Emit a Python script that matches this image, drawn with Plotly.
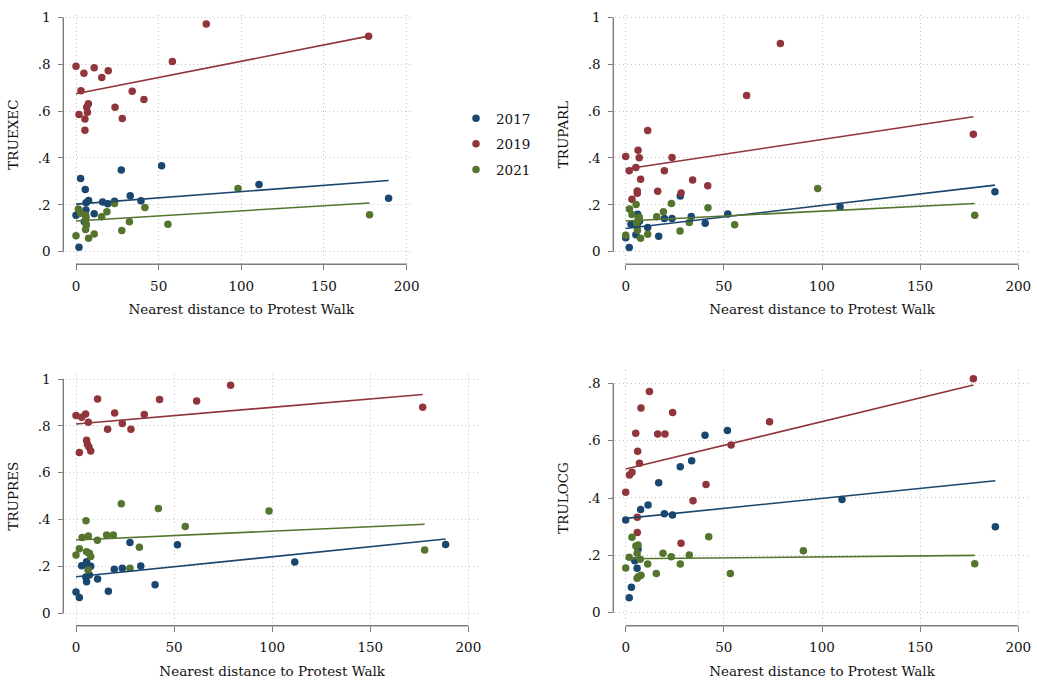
import plotly.graph_objects as go

# ---------------- data ----------------
years = ["2017", "2019", "2021"]
x_ticks = [0, 50, 100, 150, 200]
x_ticktext = ["0", "50", "100", "150", "200"]
y_ticks_full = [0, 0.2, 0.4, 0.6, 0.8, 1.0]
y_ticktext_full = ["0", ".2", ".4", ".6", ".8", "1"]
y_ticks_locg = [0, 0.2, 0.4, 0.6, 0.8]
y_ticktext_locg = ["0", ".2", ".4", ".6", ".8"]
x_title = "Nearest distance to Protest Walk"

# TRUEXEC
exec_x_2017 = [0, 1.8, 2.8, 5.6, 7.6, 6.1, 5.0, 11.0, 16.1, 19.2, 23.3, 27.4, 32.8, 39.3, 51.8, 110.7, 189.1, 6.0]
exec_y_2017 = [0.156, 0.019, 0.312, 0.266, 0.219, 0.209, 0.128, 0.162, 0.212, 0.205, 0.215, 0.349, 0.239, 0.217, 0.367, 0.287, 0.228, 0.178]
exec_x_2019 = [0, 1.8, 3.0, 4.8, 5.4, 5.4, 6.5, 6.9, 7.5, 11.0, 15.6, 19.5, 23.6, 28.0, 34.0, 41.1, 58.3, 78.8, 177.0]
exec_y_2019 = [0.792, 0.586, 0.687, 0.762, 0.566, 0.518, 0.616, 0.595, 0.632, 0.785, 0.744, 0.772, 0.616, 0.568, 0.685, 0.650, 0.812, 0.972, 0.920]
exec_x_2021 = [0, 1.4, 2.8, 5.8, 6.1, 5.8, 6.3, 5.8, 7.6, 11.0, 15.5, 18.7, 23.3, 27.7, 32.3, 41.7, 55.6, 98.0, 177.6]
exec_y_2021 = [0.068, 0.182, 0.164, 0.156, 0.146, 0.124, 0.114, 0.095, 0.057, 0.076, 0.149, 0.171, 0.206, 0.090, 0.128, 0.189, 0.117, 0.270, 0.158]
exec_fit_2017 = [0.203, 0.304]
exec_fit_2019 = [0.674, 0.920]
exec_fit_2021 = [0.131, 0.208]

# TRUPARL
parl_x_2017 = [0, 1.8, 2.7, 5.2, 5.8, 6.1, 7.0, 11.2, 16.8, 19.7, 23.6, 27.8, 33.4, 40.5, 52.0, 109.2, 188.1]
parl_y_2017 = [0.060, 0.018, 0.117, 0.072, 0.115, 0.160, 0.130, 0.103, 0.066, 0.142, 0.142, 0.238, 0.150, 0.121, 0.161, 0.191, 0.256]
parl_x_2019 = [0, 1.8, 3.2, 5.2, 5.9, 5.9, 6.3, 6.9, 7.6, 11.2, 16.3, 19.7, 23.6, 28.2, 34.1, 41.8, 61.6, 78.8, 177.1]
parl_y_2019 = [0.406, 0.346, 0.224, 0.359, 0.259, 0.249, 0.433, 0.401, 0.309, 0.517, 0.258, 0.345, 0.402, 0.251, 0.306, 0.282, 0.667, 0.889, 0.501]
parl_x_2021 = [0, 1.9, 3.2, 5.3, 5.6, 6.3, 6.9, 6.0, 7.6, 11.2, 15.8, 19.2, 23.3, 27.7, 32.4, 41.9, 55.5, 97.8, 177.8]
parl_y_2021 = [0.070, 0.182, 0.159, 0.201, 0.121, 0.135, 0.147, 0.092, 0.057, 0.074, 0.149, 0.171, 0.206, 0.088, 0.125, 0.188, 0.115, 0.270, 0.156]
parl_fit_2017 = [0.099, 0.284]
parl_fit_2019 = [0.353, 0.576]
parl_fit_2021 = [0.131, 0.206]

# TRUPRES
pres_x_2017 = [0, 1.7, 2.9, 5.4, 5.8, 7.5, 6.8, 5.4, 5.0, 11.0, 16.5, 19.5, 23.6, 27.5, 33.0, 40.3, 51.7, 111.5, 188.4]
pres_y_2017 = [0.091, 0.067, 0.203, 0.220, 0.207, 0.201, 0.163, 0.135, 0.155, 0.146, 0.094, 0.188, 0.192, 0.302, 0.202, 0.122, 0.293, 0.219, 0.294]
pres_x_2019 = [0, 1.7, 2.9, 4.9, 6.3, 5.4, 5.8, 6.6, 7.5, 11.0, 16.1, 19.7, 23.6, 28.0, 34.8, 42.6, 61.5, 78.8, 176.7]
pres_y_2019 = [0.844, 0.686, 0.837, 0.851, 0.815, 0.739, 0.721, 0.710, 0.693, 0.915, 0.786, 0.855, 0.810, 0.785, 0.848, 0.913, 0.906, 0.973, 0.879]
pres_x_2021 = [0, 1.7, 3.1, 5.1, 6.3, 5.4, 6.8, 7.5, 6.1, 10.9, 15.6, 19.0, 23.1, 27.5, 32.3, 42.0, 55.7, 98.4, 177.7]
pres_y_2021 = [0.249, 0.276, 0.324, 0.395, 0.330, 0.263, 0.256, 0.242, 0.185, 0.312, 0.334, 0.334, 0.468, 0.192, 0.282, 0.447, 0.370, 0.437, 0.270]
pres_fit_2017 = [0.156, 0.317]
pres_fit_2019 = [0.808, 0.934]
pres_fit_2021 = [0.313, 0.380]

# TRULOCG
locg_x_2017 = [0, 1.8, 2.9, 4.6, 5.8, 6.3, 7.6, 11.4, 16.8, 19.7, 23.8, 27.8, 33.6, 40.4, 51.8, 110.2, 188.3]
locg_y_2017 = [0.323, 0.052, 0.089, 0.181, 0.155, 0.222, 0.360, 0.376, 0.453, 0.345, 0.341, 0.509, 0.530, 0.619, 0.635, 0.395, 0.300]
locg_x_2019 = [0, 1.9, 3.2, 5.1, 5.9, 5.9, 6.1, 7.0, 7.8, 12.1, 16.3, 20.0, 23.9, 28.2, 34.3, 40.9, 53.7, 73.3, 177.1]
locg_y_2019 = [0.420, 0.480, 0.490, 0.626, 0.333, 0.280, 0.563, 0.521, 0.714, 0.771, 0.623, 0.623, 0.698, 0.242, 0.390, 0.447, 0.585, 0.666, 0.816]
locg_x_2021 = [0, 1.8, 3.2, 5.2, 6.3, 5.8, 7.4, 5.8, 6.6, 7.8, 11.2, 15.6, 19.0, 23.2, 27.8, 32.4, 42.3, 53.3, 90.5, 177.8]
locg_y_2021 = [0.156, 0.193, 0.263, 0.233, 0.236, 0.207, 0.186, 0.120, 0.126, 0.131, 0.170, 0.137, 0.207, 0.195, 0.170, 0.201, 0.265, 0.137, 0.216, 0.171]
locg_fit_2017 = [0.329, 0.460]
locg_fit_2019 = [0.501, 0.794]
locg_fit_2021 = [0.188, 0.200]

# ---------------- styling / layout ----------------
W, H = 1037, 683
FONT = "DejaVu Serif"
FS = 13.5
TEXT = "#111111"
AXC = "#7d7d7d"
GRIDC = "#c4c4c4"
colors = {"2017": "#1a476f", "2019": "#90353b", "2021": "#55752f"}

panels = [
    dict(name="TRUEXEC",
         xs={"2017": exec_x_2017, "2019": exec_x_2019, "2021": exec_x_2021},
         ys={"2017": exec_y_2017, "2019": exec_y_2019, "2021": exec_y_2021},
         fits={"2017": exec_fit_2017, "2019": exec_fit_2019, "2021": exec_fit_2021},
         x0=76, xsc=1.653, y0=251.7, ysc=234.3, xmax=204, ymax=1.01,
         xline=264.3, yline=63.3, yt=y_ticks_full, ytt=y_ticktext_full),
    dict(name="TRUPARL",
         xs={"2017": parl_x_2017, "2019": parl_x_2019, "2021": parl_x_2021},
         ys={"2017": parl_y_2017, "2019": parl_y_2019, "2021": parl_y_2021},
         fits={"2017": parl_fit_2017, "2019": parl_fit_2019, "2021": parl_fit_2021},
         x0=625.7, xsc=1.963, y0=251.7, ysc=234.3, xmax=205, ymax=1.01,
         xline=264.3, yline=613.3, yt=y_ticks_full, ytt=y_ticktext_full),
    dict(name="TRUPRES",
         xs={"2017": pres_x_2017, "2019": pres_x_2019, "2021": pres_x_2021},
         ys={"2017": pres_y_2017, "2019": pres_y_2019, "2021": pres_y_2021},
         fits={"2017": pres_fit_2017, "2019": pres_fit_2019, "2021": pres_fit_2021},
         x0=76, xsc=1.962, y0=613.3, ysc=234.3, xmax=205, ymax=1.02,
         xline=625.7, yline=63.3, yt=y_ticks_full, ytt=y_ticktext_full),
    dict(name="TRULOCG",
         xs={"2017": locg_x_2017, "2019": locg_x_2019, "2021": locg_x_2021},
         ys={"2017": locg_y_2017, "2019": locg_y_2019, "2021": locg_y_2021},
         fits={"2017": locg_fit_2017, "2019": locg_fit_2019, "2021": locg_fit_2021},
         x0=625.7, xsc=1.963, y0=612.7, ysc=286.75, xmax=205, ymax=0.846,
         xline=625.7, yline=613.3, yt=y_ticks_locg, ytt=y_ticktext_locg),
]

fig = go.Figure()
layout = dict(
    width=W, height=H,
    margin=dict(l=0, r=0, t=0, b=0, autoexpand=False),
    paper_bgcolor="white", plot_bgcolor="rgba(0,0,0,0)",
    font=dict(family=FONT, size=FS, color=TEXT),
    showlegend=True,
    legend=dict(x=456 / W, y=1 - 103 / H, xanchor="left", yanchor="top",
                font=dict(family=FONT, size=FS, color=TEXT),
                tracegroupgap=5, bgcolor="rgba(0,0,0,0)", borderwidth=0),
)

for i, p in enumerate(panels):
    k = "" if i == 0 else str(i + 1)
    kl = str(i + 5)
    xa, ya = "x" + k, "y" + k          # data + grid axes
    xl, yl = "x" + kl, "y" + kl        # Stata-style offset axes (ticks, labels, titles)

    x_of_yline = (p["yline"] - p["x0"]) / p["xsc"]
    y_of_xline = (p["y0"] - p["xline"]) / p["ysc"]
    xr = [(p["yline"] - 2.5 - p["x0"]) / p["xsc"], p["xmax"]]
    yr = [(p["y0"] - p["xline"] - 2.5) / p["ysc"], p["ymax"]]

    for yr_ in years:
        fig.add_trace(go.Scatter(
            x=p["xs"][yr_], y=p["ys"][yr_], mode="markers", xaxis=xa, yaxis=ya,
            marker=dict(color=colors[yr_], size=7.5),
            name=yr_, legendgroup=yr_, showlegend=(i == 0)))
    for yr_ in years:
        xs = p["xs"][yr_]
        fig.add_trace(go.Scatter(
            x=[min(xs), max(xs)], y=p["fits"][yr_], mode="lines", xaxis=xa, yaxis=ya,
            line=dict(color=colors[yr_], width=1.6), showlegend=False, legendgroup=yr_))
    # offset axis lines spanning only the labelled tick range
    fig.add_trace(go.Scatter(
        x=[x_ticks[0], x_ticks[-1]], y=[y_of_xline, y_of_xline], mode="lines",
        xaxis=xa, yaxis=ya, line=dict(color=AXC, width=1.4), showlegend=False,
        hoverinfo="skip"))
    fig.add_trace(go.Scatter(
        x=[x_of_yline, x_of_yline], y=[p["yt"][0], p["yt"][-1]], mode="lines",
        xaxis=xa, yaxis=ya, line=dict(color=AXC, width=1.4), showlegend=False,
        hoverinfo="skip"))
    # invisible anchor point so that the offset tick axes get drawn
    fig.add_trace(go.Scatter(
        x=[x_ticks[0]], y=[p["yt"][0]], mode="markers", xaxis=xl, yaxis=yl,
        marker=dict(size=1, opacity=0), showlegend=False, hoverinfo="skip"))

    dx = [(p["x0"] + xr[0] * p["xsc"]) / W, (p["x0"] + xr[1] * p["xsc"]) / W]
    dy = [1 - (p["y0"] - yr[0] * p["ysc"]) / H, 1 - (p["y0"] - yr[1] * p["ysc"]) / H]
    lx = [(p["x0"] + x_ticks[0] * p["xsc"]) / W, (p["x0"] + x_ticks[-1] * p["xsc"]) / W]
    ly = [1 - (p["y0"] - p["yt"][0] * p["ysc"]) / H, 1 - (p["y0"] - p["yt"][-1] * p["ysc"]) / H]
    xpos = 1 - p["xline"] / H
    ypos = p["yline"] / W

    layout["xaxis" + k] = dict(
        domain=dx, range=xr, anchor="free", position=0, automargin=False,
        tickvals=x_ticks, showticklabels=False, ticks="", showline=False, zeroline=False,
        showgrid=True, gridcolor=GRIDC, gridwidth=1, griddash="1px,3px")
    layout["yaxis" + k] = dict(
        domain=dy, range=yr, anchor="free", position=0, automargin=False,
        tickvals=p["yt"], showticklabels=False, ticks="", showline=False, zeroline=False,
        showgrid=True, gridcolor=GRIDC, gridwidth=1, griddash="1px,3px")

    layout["xaxis" + kl] = dict(
        domain=lx, range=[x_ticks[0], x_ticks[-1]], anchor="free", position=xpos,
        automargin=False,
        tickvals=x_ticks, ticktext=x_ticktext, ticks="outside", ticklen=5,
        tickcolor=AXC, tickwidth=1, showline=False,
        zeroline=False, showgrid=False,
        tickfont=dict(family=FONT, size=FS, color=TEXT), ticklabelstandoff=4,
        ticklabeloverflow="allow",
        title=dict(text=x_title, standoff=12, font=dict(family=FONT, size=FS, color=TEXT)))
    layout["yaxis" + kl] = dict(
        domain=ly, range=[p["yt"][0], p["yt"][-1]], anchor="free", position=ypos,
        automargin=False,
        tickvals=p["yt"], ticktext=p["ytt"], ticks="outside", ticklen=5,
        tickcolor=AXC, tickwidth=1, showline=False,
        zeroline=False, showgrid=False,
        tickfont=dict(family=FONT, size=FS, color=TEXT), ticklabelstandoff=5,
        title=dict(text=p["name"], standoff=14, font=dict(family=FONT, size=FS, color=TEXT)))

fig.update_layout(**layout)
fig.write_html("out.html", config={"displayModeBar": False},
               post_script="document.body.style.margin='0';")
